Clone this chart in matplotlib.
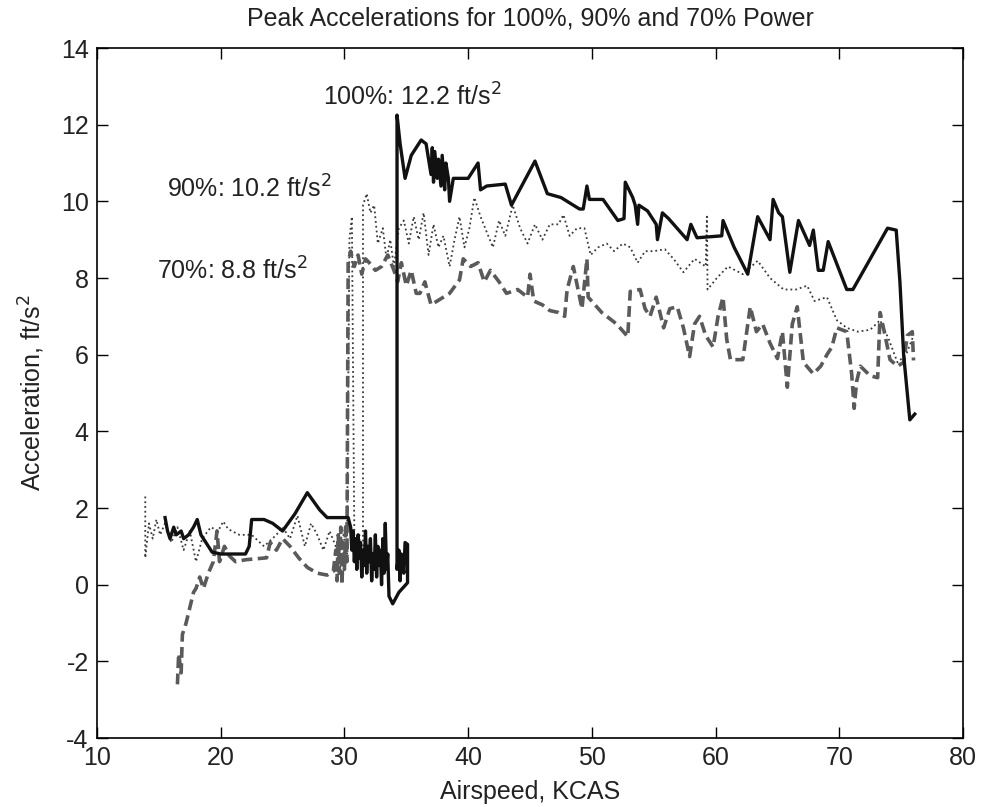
import numpy as np
import matplotlib
matplotlib.use("Agg")
import matplotlib.pyplot as plt

plt.rcParams['font.family'] = ['Liberation Sans', 'DejaVu Sans']
plt.rcParams['axes.unicode_minus'] = False

# 100% power (solid)
x100 = [15.5, 15.7, 15.9, 16.2, 16.4, 16.8, 17.0, 17.4, 17.8, 18.1, 18.4, 19.0, 19.3, 20.0, 22.0,
        22.3, 22.5, 23.5, 24.2, 25.0, 26.0, 27.0, 28.0, 28.6, 30.3, 30.5, 30.6, 30.7, 30.8, 30.9,
        31.0, 31.1, 31.2, 31.3, 31.4, 31.5, 31.6, 31.7, 31.8, 31.9, 32.0, 32.1, 32.2, 32.3, 32.4,
        32.5, 32.6, 32.7, 32.8, 32.9, 33.0, 33.1, 33.2, 33.3, 33.4, 33.5, 33.6, 33.9, 34.4, 35.1,
        35.1, 34.9, 34.8, 34.6, 34.5, 34.4, 34.25, 34.25, 34.5, 34.9, 35.4, 36.2, 36.6, 37.0,
        37.1, 37.2, 37.3, 37.5, 37.6, 37.8, 37.9, 38.1, 38.2, 38.4, 38.5, 38.8, 40.0, 40.8,
        41.0, 41.5, 43.0, 43.5, 45.4, 46.4, 47.5, 49.0, 49.3, 49.6, 49.8, 50.9, 52.1, 52.6,
        52.7, 53.3, 53.5, 53.7, 53.8, 54.5, 55.2, 55.3, 55.7, 56.2, 57.7, 58.0, 58.5, 60.5,
        60.6, 61.5, 62.6, 63.4, 64.4, 64.65, 65.1, 65.4, 66.0, 66.7, 67.6, 67.9, 68.3, 68.7,
        69.1, 70.6, 71.1, 73.9, 74.6, 74.9, 75.2, 75.7, 76.1]
y100 = [1.75, 1.4, 1.2, 1.5, 1.3, 1.4, 1.2, 1.3, 1.5, 1.7, 1.3, 1.0, 0.85, 0.8, 0.8,
        1.0, 1.7, 1.7, 1.6, 1.4, 1.85, 2.4, 1.95, 1.75, 1.75, 1.5, 0.9, 1.4, 0.6, 1.2,
        0.4, 1.3, 0.7, 1.1, 0.2, 0.9, 0.5, 1.4, 0.3, 1.0, 0.6, 1.2, 0.1, 0.8, 0.4,
        1.3, 0.2, 1.0, 0.5, 0.9, 0.0, 1.2, 0.3, 1.6, 0.4, 0.8, -0.3, -0.5, -0.2, 0.05,
        1.05, 1.1, 0.3, 0.8, 0.1, 0.9, 0.4, 12.25, 11.5, 10.6, 11.2, 11.6, 11.5, 10.7,
        11.4, 10.5, 11.3, 10.6, 11.1, 10.4, 11.2, 10.3, 11.0, 10.6, 10.0, 10.6, 10.6, 11.0,
        10.3, 10.4, 10.45, 9.9, 11.05, 10.2, 10.1, 9.8, 9.8, 10.4, 10.05, 10.05, 9.5, 9.55,
        10.5, 10.1, 9.9, 9.4, 9.9, 9.75, 9.4, 9.0, 9.7, 9.55, 9.0, 9.4, 9.05, 9.1,
        9.5, 8.8, 8.1, 9.6, 9.0, 10.05, 9.7, 9.6, 8.15, 9.5, 8.85, 9.25, 8.2, 8.2,
        8.95, 7.7, 7.7, 9.3, 9.25, 7.9, 6.0, 4.3, 4.45]

# 90% power (dotted)
x90 = [13.9, 13.9, 14.2, 14.5, 14.8, 15.1, 15.5, 16.0, 16.5, 17.0, 17.5, 18.0, 18.5, 19.2,
       19.8, 20.2, 20.6, 21.5, 22.5, 23.5, 24.5, 25.0, 25.6, 26.2, 26.8, 27.3, 27.8, 28.3,
       28.8, 29.3, 29.8, 30.2, 30.4, 30.6, 30.8, 31.0, 31.2, 31.3, 31.5, 31.5, 31.8, 32.1,
       32.4, 32.7, 33.1, 33.4, 33.7, 34.0, 34.4, 34.8, 35.2, 35.6, 36.0, 36.4, 36.8, 37.2,
       37.6, 38.0, 38.5, 38.9, 39.3, 39.7, 40.1, 40.5, 41.0, 41.5, 42.0, 42.5, 43.0, 43.6,
       44.2, 44.8, 45.4, 46.0, 46.6, 47.3, 47.7, 48.2, 48.8, 49.4, 49.9, 50.5, 51.2, 51.8,
       52.5, 53.1, 53.7, 54.3, 55.0, 55.9, 56.6, 57.4, 58.3, 59.2, 59.3, 59.35, 60.1, 61.0,
       62.2, 63.4, 64.4, 65.5, 66.5, 67.4, 68.0, 69.0, 69.8, 70.6, 71.5, 72.5, 73.3, 74.0,
       74.7, 75.4, 76.0]
y90 = [2.3, 0.7, 1.6, 1.2, 1.7, 1.3, 1.6, 1.1, 1.5, 0.9, 1.4, 0.6, 1.2, 1.5,
       1.4, 1.65, 1.45, 1.3, 1.3, 1.0, 1.3, 1.5, 1.2, 1.8, 1.0, 1.6, 1.3, 0.9,
       1.4, 1.0, 1.5, 0.8, 9.0, 9.6, 1.2, 0.5, 1.3, 0.6, 0.9, 9.9, 10.2, 9.7,
       9.9, 8.9, 9.3, 8.5, 9.0, 8.3, 9.3, 9.5, 8.9, 9.6, 9.0, 9.7, 8.6, 9.4,
       8.8, 9.1, 8.3, 9.0, 9.6, 8.8, 9.3, 10.1, 9.6, 9.2, 8.8, 9.5, 9.1, 9.9,
       9.3, 8.9, 9.4, 9.0, 9.4, 9.4, 9.65, 9.1, 9.3, 9.3, 8.6, 8.8, 8.9, 8.7,
       8.9, 8.8, 8.4, 8.7, 8.7, 8.75, 8.5, 8.15, 8.5, 8.3, 9.6, 7.7, 8.0, 8.3,
       8.1, 8.45, 8.0, 7.7, 7.7, 7.8, 7.4, 7.5, 6.9, 6.7, 6.6, 6.65, 6.9, 6.4,
       5.8, 6.0, 6.5]

# 70% power (dashed)
x70 = [16.5, 16.6, 16.8, 16.9, 17.2, 17.5, 17.8, 18.0, 18.3, 18.6, 19.0, 19.4, 19.7, 19.9,
       20.3, 20.7, 21.2, 22.0, 23.7, 24.0, 24.5, 25.0, 25.6, 26.3, 27.0, 27.8, 28.6, 29.1,
       29.3, 29.4, 29.5, 29.6, 29.7, 29.8, 29.9, 30.0, 30.1, 30.2, 30.3, 30.5, 30.8, 31.1,
       31.4, 31.7, 32.0, 32.5, 33.0, 33.5, 34.0, 34.3, 34.6, 35.0, 35.4, 35.8, 36.1, 36.5,
       37.0, 37.5, 38.0, 38.5, 39.3, 39.6, 40.2, 40.8, 41.3, 41.8, 42.5, 43.1, 44.0, 44.8,
       45.0, 45.3, 46.0, 46.6, 47.3, 47.8, 48.0, 48.5, 49.2, 49.6, 49.7, 50.8, 52.0, 52.9,
       53.1, 53.9, 54.3, 54.7, 55.2, 55.8, 56.3, 56.9, 57.4, 57.9, 58.3, 58.7, 59.2, 59.8,
       60.2, 60.6, 60.9, 61.2, 62.2, 62.8, 63.3, 63.8, 64.4, 65.0, 65.4, 65.8, 66.2, 66.6,
       67.1, 67.9, 68.5, 69.0, 69.4, 69.8, 70.6, 71.0, 71.2, 71.4, 71.7, 72.5, 73.1, 73.3,
       73.7, 74.1, 74.7, 75.2, 75.5, 75.9, 76.0]
y70 = [-2.6, -1.8, -2.3, -1.3, -1.0, -0.6, -0.2, -0.1, 0.2, -0.1, 0.3, 0.6, 1.4, 0.6,
       1.0, 0.75, 0.6, 0.65, 0.7, 1.1, 0.9, 1.2, 1.0, 0.7, 0.45, 0.3, 0.25, 0.35,
       0.9, 0.1, 1.3, 0.3, 1.5, 0.0, 1.1, 0.4, 1.6, 0.6, 8.4, 8.7, 8.3, 8.6,
       8.1, 8.5, 8.4, 8.2, 8.3, 8.6, 8.2, 7.9, 8.4, 7.8, 8.2, 7.6, 7.6, 7.9,
       7.3, 7.4, 7.5, 7.6, 7.95, 8.5, 8.3, 8.4, 7.9, 8.2, 7.9, 7.6, 7.7, 7.5,
       8.1, 7.4, 7.3, 7.15, 7.1, 7.0, 7.7, 8.3, 7.2, 8.5, 7.5, 7.1, 6.8, 6.47,
       7.65, 7.7, 7.2, 7.0, 7.5, 6.7, 7.2, 7.25, 6.7, 5.95, 6.8, 7.0, 6.5, 6.2,
       7.0, 7.5, 6.4, 5.87, 5.87, 7.25, 6.6, 6.8, 6.3, 5.9, 6.6, 5.15, 6.8, 7.25,
       5.8, 5.5, 5.7, 6.0, 6.2, 6.7, 6.6, 5.5, 4.6, 5.3, 5.7, 5.45, 5.4, 7.1,
       6.5, 5.87, 5.7, 5.8, 6.5, 6.6, 5.85]

txt = '#222222'

fig = plt.figure(figsize=(9.87, 8.07), dpi=100)
ax = fig.add_axes([0.0983, 0.0855, 0.8774, 0.855])

ax.plot(x90, y90, linestyle=':', color='#3a3a3a', linewidth=1.3)
ax.plot(x70, y70, linestyle='--', color='#5a5a5a', linewidth=2.6, dashes=(3, 1.5))
ax.plot(x100, y100, linestyle='-', color='#111111', linewidth=2.4)

ax.set_xlim(10, 80)
ax.set_ylim(-4, 14)
ax.set_xticks(np.arange(10, 81, 10))
ax.set_yticks(np.arange(-4, 15, 2))
ax.tick_params(direction='in', top=True, right=True, labelsize=18, length=8, width=1, pad=6,
               labelcolor=txt)
for s in ax.spines.values():
    s.set_linewidth(1.2)

ax.set_title("Peak Accelerations for 100%, 90% and 70% Power", fontsize=18, pad=16, color=txt)
ax.set_xlabel("Airspeed, KCAS", fontsize=18, labelpad=7, color=txt)
ax.set_ylabel("Acceleration, ft/s$^2$", fontsize=18, labelpad=10, color=txt)

ax.text(28.3, 12.5, "100%: 12.2 ft/s$^2$", fontsize=18, color=txt)
ax.text(15.66, 10.1, "90%: 10.2 ft/s$^2$", fontsize=18, color=txt)
ax.text(14.85, 7.95, "70%: 8.8 ft/s$^2$", fontsize=18, color=txt)

fig.savefig("out.png", dpi=100)
